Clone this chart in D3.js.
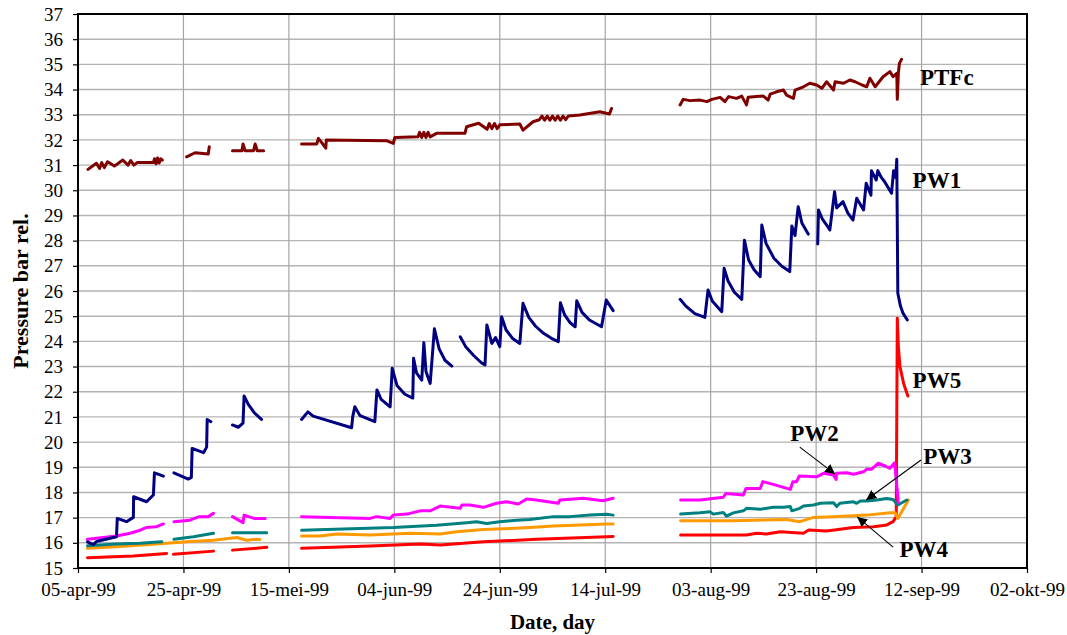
<!DOCTYPE html>
<html>
<head>
<meta charset="utf-8">
<script src="https://cdn.jsdelivr.net/npm/d3@7"></script>
<style>
  body { margin: 0; background: #fff; }
  svg { display: block; }
  text { font-family: "Liberation Serif", "Times New Roman", serif; fill: #000; }
</style>
</head>
<body>
<svg id="chart" width="1067" height="635"></svg>
<script>
// Measurement period and axis settings
const startDate = "1999-04-05";
const endDate = "1999-10-02";
const tickStepDays = 20;
const yDomain = [15, 37];
const yTicks = d3.range(15, 38);

// Readings as [days since start, pressure in bar]; null marks a gap in logging
const ptfc = [
  [1.9,30.83],[3.5,31.07],[4.1,30.87],[4.5,31.1],[5,30.9],[5.6,31.13],[6.9,30.96],[8.5,31.2],[9.5,31.0],
  [10,31.18],[10.6,31.0],[11.2,31.1],[14.3,31.1],[14.5,31.25],[14.8,31.05],[15.1,31.28],[15.4,31.08],
  [15.7,31.25],[16,31.2],
  null,
  [20.6,31.33],[22.2,31.49],[24.7,31.44],[24.9,31.73],
  null,
  [29.3,31.57],[31.1,31.57],[31.3,31.84],[31.7,31.57],[33.3,31.57],[33.6,31.84],[34,31.57],[35.2,31.57],
  null,
  [42.4,31.84],[45.3,31.84],[45.6,32.06],[46.2,31.9],[47,31.67],[47.1,32.0],[58.5,31.97],[59.8,31.86],
  [60.1,32.1],[64.5,32.13],[64.8,32.3],[65.2,32.1],[65.6,32.3],[66,32.1],[66.4,32.3],[66.8,32.12],
  [68,32.26],[73.4,32.26],[73.7,32.52],[76,32.66],[77.6,32.42],[78,32.65],[78.5,32.45],[79,32.65],
  [79.5,32.45],[80,32.6],[83.8,32.63],[84.4,32.39],[86.3,32.72],[87.5,32.8],[88,32.95],[88.5,32.78],
  [89,32.95],[89.5,32.78],[90,32.95],[90.5,32.78],[91,32.95],[91.5,32.78],[92,32.95],[92.5,32.8],
  [93,32.95],[95.2,32.99],[99,33.12],[100.8,33.03],[101.2,33.25],
  null,
  [114.2,33.39],[114.8,33.61],[116.1,33.56],[118,33.58],[119.3,33.52],[120.2,33.61],[121.8,33.69],
  [122.7,33.52],[123.4,33.72],[124.9,33.65],[125.9,33.74],[126.8,33.39],[127.1,33.69],[128.7,33.72],
  [130,33.74],[130.9,33.58],[131.3,33.82],[132.5,33.91],[133.8,33.98],[134.4,33.78],[135.7,33.65],
  [136,33.98],[137.6,34.11],[138.8,34.25],[140.1,34.18],[141.1,34.05],[142,34.31],[143.3,33.98],
  [143.6,34.31],[145.2,34.25],[146.4,34.38],[147.4,34.31],[148.7,34.18],[149.6,34.11],[150.2,34.45],
  [151.2,34.11],[151.8,34.27],[152.7,34.51],[154,34.71],[154.6,34.51],[155.3,34.64],[155.4,33.61],
  [155.6,34.64],[155.8,35.04],[156.2,35.2]
];

const pw1 = [
  [1.8,16.04],[2.9,15.93],[3.5,16.05],[7.3,16.24],[7.45,16.97],[9.2,16.84],[10.5,17.01],[10.55,17.83],
  [13,17.63],[14.3,17.9],[14.5,18.78],[16.2,18.65],
  null,
  [18.2,18.78],[20.9,18.53],[21.5,18.6],[21.65,19.75],[23.8,19.58],[24.4,19.8],[24.5,20.9],[25.2,20.81],
  null,
  [29.3,20.68],[30.4,20.59],[31.3,20.75],[31.5,21.83],[32.3,21.5],[33.5,21.15],[34.8,20.9],
  null,
  [42.4,20.9],[43.6,21.2],[44.6,21.03],[51.9,20.57],[52.1,21.0],[52.5,21.4],[53.5,21.05],[56.3,20.81],
  [56.7,22.07],[57.5,21.7],[59.2,21.4],[59.6,22.93],[60.5,22.25],[62,21.9],[63.5,21.75],[63.65,23.33],
  [64.2,22.75],[65.2,22.46],[65.6,23.95],[66,22.8],[66.8,22.33],[67.6,24.5],[68.5,23.7],[69.6,23.25],
  [70.9,23.02],
  null,
  [72.5,24.18],[73.5,23.8],[75,23.45],[76.5,23.15],[77.2,23.06],[77.55,24.65],[78.5,23.92],[79.2,24.15],
  [80,23.79],[80.35,24.98],[81.2,24.45],[82.5,24.1],[83.8,23.92],[84.4,25.51],[85.5,24.95],[86.8,24.6],
  [88.3,24.32],[89.8,24.12],[91.1,23.99],[91.5,25.53],[92.3,25.05],[93.3,24.75],[94.3,24.58],[94.6,25.61],
  [95.6,25.15],[97,24.85],[99.3,24.58],[100.2,25.64],[101.5,25.22],
  null,
  [114.2,25.67],[115.3,25.4],[117,25.1],[118.9,24.95],[119.5,26.04],[120.3,25.6],[122.1,25.18],
  [122.55,26.9],[123.3,26.4],[124.5,25.95],[125.9,25.67],[126.4,28.02],[127.2,27.23],[128.2,26.85],
  [129.4,26.57],[129.7,28.62],[130.5,27.89],[132,27.3],[133.5,26.98],[135,26.77],[135.4,28.58],
  [136,28.2],[136.6,29.35],[137.3,28.7],[138.5,28.26],
  null,
  [140.3,27.87],[140.45,29.22],[141.2,28.85],[142,28.62],[142.6,28.42],[143.5,29.94],[143.9,29.3],
  [145.1,29.55],[146,29.1],[147,28.82],[147.7,29.68],[149,29.22],[149.5,30.28],[150.4,29.8],[150.5,30.78],
  [151.4,30.41],[151.7,30.78],[152.4,30.5],[153,30.34],[154.3,29.88],[154.7,30.78],[155.1,30.5],
  [155.3,31.23],[155.5,25.91],[156,25.4],[156.5,25.11],[157.3,24.85]
];

const pw2 = [
  [1.8,16.14],[7.3,16.27],[9.9,16.38],[11.8,16.5],[13,16.61],[14.9,16.64],[16.2,16.75],
  null,
  [18.2,16.84],[21.2,16.9],[23,17.04],[24.7,17.04],[25.7,17.17],
  null,
  [29.3,17.04],[31.3,16.8],[31.5,17.1],[33.4,16.97],[35.5,16.97],
  null,
  [42.4,17.04],[55.4,16.97],[56.6,17.04],[59.2,16.97],[59.8,17.1],[62.4,17.14],[64.9,17.27],[66.8,17.27],
  [68.7,17.46],[72.5,17.37],[72.8,17.5],[74.3,17.5],[76.9,17.41],[79.4,17.57],[81.3,17.63],[83.5,17.54],
  [85.1,17.74],[86.9,17.7],[91.1,17.57],[91.4,17.7],[95.8,17.77],[99.6,17.67],[101.5,17.77],
  null,
  [114.3,17.7],[118,17.7],[122.4,17.81],[122.9,17.96],[126.2,17.9],[126.7,18.16],[129.4,18.16],
  [129.9,18.43],[132.2,18.3],[135.1,18.12],[135.6,18.43],[136.3,18.43],[136.8,18.65],[140.1,18.62],
  [141.4,18.76],[143.3,18.69],[143.8,18.52],[143.85,18.76],[145.8,18.78],[147.1,18.72],[149,18.82],
  [149.6,18.92],[150.5,18.92],[151.8,19.16],[153.1,19.05],[154,18.96],[154.9,19.18],[155.6,17.6]
];

const pw3 = [
  [1.8,15.88],[7.3,15.95],[11.7,15.98],[15.9,16.04],
  null,
  [18.2,16.14],[21.9,16.24],[25.7,16.38],
  null,
  [29.3,16.4],[35.8,16.4],
  null,
  [42.4,16.5],[59.8,16.61],[68,16.7],[73.7,16.8],[75.6,16.84],[77.5,16.77],[80,16.84],[83.2,16.9],
  [85.7,16.93],[90.2,17.04],[93.3,17.04],[97.1,17.1],[100.3,17.13],[101.5,17.1],
  null,
  [114.3,17.14],[118,17.19],[119.9,17.23],[120.5,17.14],[122.4,17.2],[123,17.06],[124.3,17.19],
  [126.2,17.27],[126.8,17.37],[129.4,17.33],[131.9,17.41],[133.8,17.41],[135.1,17.44],[135.4,17.27],
  [136.9,17.37],[137.6,17.46],[139.5,17.5],[140.8,17.57],[143.3,17.59],[143.9,17.44],[144.5,17.57],
  [147.1,17.63],[147.7,17.57],[148.4,17.66],[149.6,17.66],[151.5,17.7],[153.4,17.76],[154.6,17.72],
  [155.5,17.5],[156.5,17.62],[157.2,17.7]
];

const pw4 = [
  [1.8,15.78],[7.3,15.84],[14.9,15.95],[20.6,16.04],[25.7,16.1],[30.1,16.21],[32,16.1],[33.3,16.13],[34.5,16.13],
  null,
  [42.4,16.27],[45.9,16.27],[49.1,16.35],[55.4,16.31],[63,16.38],[68.7,16.35],[71.8,16.44],[76.9,16.53],
  [81.9,16.57],[85.7,16.61],[90.2,16.67],[100.3,16.75],[101.5,16.75],
  null,
  [114.3,16.88],[124.3,16.88],[134.4,16.93],[136.9,16.84],[139.5,17.01],[143.3,17.04],[149.6,17.1],
  [154,17.19],[155,17.19],[155.5,16.97],[157.5,17.7]
];

const pw5 = [
  [1.8,15.41],[10.5,15.48],[16.8,15.58],
  null,
  [18.1,15.55],[25.7,15.67],
  null,
  [29.3,15.71],[35.8,15.82],
  null,
  [42.4,15.78],[55.4,15.87],[64.9,15.95],[68.7,15.91],[76.9,16.04],[87,16.14],[100.3,16.24],[101.5,16.25],
  null,
  [114.3,16.31],[121,16.31],[126.8,16.31],[128.7,16.38],[130.6,16.35],[133.2,16.44],[137.6,16.38],
  [138.6,16.51],[142,16.47],[147.1,16.61],[150.9,16.64],[153.4,16.71],[154.6,16.84],[155.2,17.04],
  [155.4,24.92],[155.6,23.8],[155.9,23.0],[156.6,22.33],[157.4,21.83]
];

const seriesNames = ["PW5", "PW4", "PW3", "PW2", "PW1", "PTFc"];
const seriesData = [pw5, pw4, pw3, pw2, pw1, ptfc];
const seriesColors = ["#ff0000", "#ff9900", "#008080", "#ff00ff", "#000080", "#800000"];

// Series labels: [text, day, value at baseline]
const labels = [
  ["PTFc", 159.7, 34.18],
  ["PW1", 158.3, 30.09],
  ["PW5", 158.3, 22.13],
  ["PW2", 135.1, 20.04],
  ["PW3", 160.3, 19.13],
  ["PW4", 155.8, 15.42]
];
// Pointer arrows: [from day, from value, to day, to value]
const arrows = [
  [136.9, 19.8, 143.6, 18.73],
  [159.9, 19.29, 149.5, 17.7],
  [154.6, 15.83, 147.8, 17.03]
];

const xTitle = "Date, day";
const yTitle = "Pressure bar rel.";

// ---- layout ----
const width = 1067, height = 635;
const margin = { top: 14, right: 40, bottom: 67, left: 78 };
const innerW = width - margin.left - margin.right;
const innerH = height - margin.top - margin.bottom;

const DAY = 864e5;
const t0 = new Date(startDate + "T00:00:00Z");
const t1 = new Date(endDate + "T00:00:00Z");
const toDate = d => new Date(t0.getTime() + d * DAY);

const nl = d3.timeFormatLocale({
  dateTime: "%a %e %B %Y %X", date: "%d-%m-%Y", time: "%H:%M:%S", periods: ["AM", "PM"],
  days: ["zondag","maandag","dinsdag","woensdag","donderdag","vrijdag","zaterdag"],
  shortDays: ["zo","ma","di","wo","do","vr","za"],
  months: ["januari","februari","maart","april","mei","juni","juli","augustus","september","oktober","november","december"],
  shortMonths: ["jan","feb","mrt","apr","mei","jun","jul","aug","sep","okt","nov","dec"]
});
const fmt = nl.utcFormat("%d-%b-%y");

const x = d3.scaleUtc().domain([t0, t1]).range([0, innerW]);
const y = d3.scaleLinear().domain(yDomain).range([innerH, 0]);

const xTickValues = d3.range(0, (t1 - t0) / DAY + 0.5, tickStepDays).map(toDate);

const svg = d3.select("#chart");
const defs = svg.append("defs");
const g = svg.append("g").attr("transform", `translate(${margin.left},${margin.top})`);

// grid
g.append("g").selectAll("line").data(yTicks.slice(1, -1)).join("line")
  .attr("x1", 0).attr("x2", innerW)
  .attr("y1", d => y(d)).attr("y2", d => y(d))
  .attr("stroke", "#b4b4b4").attr("stroke-width", 1.4);
g.append("g").selectAll("line").data(xTickValues.slice(1)).join("line")
  .attr("x1", d => x(d)).attr("x2", d => x(d))
  .attr("y1", 0).attr("y2", innerH)
  .attr("stroke", "#a4a4a4").attr("stroke-width", 1.2);

// axes
const xAxis = g.append("g").attr("transform", `translate(0,${innerH})`)
  .call(d3.axisBottom(x).tickValues(xTickValues).tickFormat(fmt).tickSize(5).tickPadding(10).tickSizeOuter(0));
xAxis.select(".domain").remove();
xAxis.selectAll("line").attr("stroke", "#000").attr("stroke-width", 1.2);
xAxis.selectAll("text").style("font-size", "19px").attr("font-family", null);

const yAxis = g.append("g")
  .call(d3.axisLeft(y).tickValues(yTicks).tickFormat(d3.format("d")).tickSize(5).tickPadding(10).tickSizeOuter(0));
yAxis.select(".domain").remove();
yAxis.selectAll("line").attr("stroke", "#000").attr("stroke-width", 1.2);
yAxis.selectAll("text").style("font-size", "19px").attr("font-family", null);

// plot frame
g.append("rect").attr("x", 0).attr("y", 0).attr("width", innerW).attr("height", innerH)
  .attr("fill", "none").attr("stroke", "#000").attr("stroke-width", 2);

// series
const line = d3.line()
  .defined(d => d !== null)
  .x(d => x(toDate(d[0])))
  .y(d => y(d[1]));

defs.append("clipPath").attr("id", "plotclip")
  .append("rect").attr("x", 0).attr("y", 0).attr("width", innerW).attr("height", innerH);

g.append("g").attr("clip-path", "url(#plotclip)")
  .selectAll("path").data(seriesData).join("path")
  .attr("d", d => line(d))
  .attr("fill", "none")
  .attr("stroke", (d, i) => seriesColors[i])
  .attr("stroke-width", 3)
  .attr("stroke-linejoin", "round")
  .attr("stroke-linecap", "round")
  .attr("data-name", (d, i) => seriesNames[i]);

// arrows
defs.append("marker")
  .attr("id", "head").attr("viewBox", "0 0 10 10").attr("refX", 10).attr("refY", 5)
  .attr("markerWidth", 10).attr("markerHeight", 10).attr("markerUnits", "userSpaceOnUse")
  .attr("orient", "auto")
  .append("path").attr("d", "M0,0 L10,5 L0,10 Z").attr("fill", "#000");

g.append("g").selectAll("line").data(arrows).join("line")
  .attr("x1", d => x(toDate(d[0]))).attr("y1", d => y(d[1]))
  .attr("x2", d => x(toDate(d[2]))).attr("y2", d => y(d[3]))
  .attr("stroke", "#000").attr("stroke-width", 1.1)
  .attr("marker-end", "url(#head)");

// series labels
g.append("g").selectAll("text").data(labels).join("text")
  .attr("x", d => x(toDate(d[1]))).attr("y", d => y(d[2]))
  .style("font-size", "23px").style("font-weight", "bold")
  .text(d => d[0]);

// axis titles
svg.append("text")
  .attr("x", margin.left + innerW / 2).attr("y", 629)
  .attr("text-anchor", "middle")
  .style("font-size", "21px").style("font-weight", "bold")
  .text(xTitle);

svg.append("text")
  .attr("transform", `translate(28,${margin.top + innerH / 2}) rotate(-90)`)
  .attr("text-anchor", "middle")
  .style("font-size", "22px").style("font-weight", "bold")
  .text(yTitle);
</script>
</body>
</html>
